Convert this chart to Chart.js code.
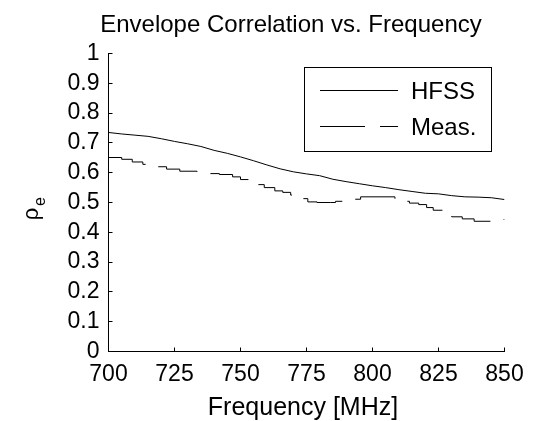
<!DOCTYPE html>
<html><head><meta charset="utf-8">
<script src="https://cdn.jsdelivr.net/npm/chart.js@4.4.1/dist/chart.umd.min.js"></script>
<style>html,body{margin:0;padding:0;background:#fff;}</style>
</head><body>
<canvas id="c" width="545" height="421"></canvas>
<script>
const hfssFreq = [700,705,710,715,720,725,730,735,740,745,750,755,760,765,770,775,780,785,790,795,800,805,810,815,820,825,830,835,840,845,850];
const hfssVals = [0.735,0.730,0.726,0.722,0.714,0.705,0.697,0.688,0.675,0.665,0.653,0.640,0.626,0.613,0.603,0.596,0.590,0.578,0.570,0.563,0.556,0.550,0.543,0.537,0.531,0.529,0.523,0.519,0.518,0.516,0.510];
const measFreq = [700,705,709,713,716,722,727,733.5,737,742,747,750,753,756,759,763,766,769,772.5,775.5,779,784,786,791.5,795.5,808.5,811,814,817.5,820.5,823,827,830,834,838.5,846.5,850];
const measVals = [0.651,0.645,0.636,0.628,0.620,0.612,0.605,0.600,0.597,0.594,0.586,0.577,0.569,0.560,0.550,0.539,0.534,0.525,0.513,0.502,0.500,0.500,0.504,0.511,0.519,0.510,0.504,0.498,0.493,0.483,0.474,0.463,0.452,0.445,0.437,0.443,0.443];
const xTicks = [700,725,750,775,800,825,850];
const yTicks = [0,0.1,0.2,0.3,0.4,0.5,0.6,0.7,0.8,0.9,1];
const yTickLabels = ['0','0.1','0.2','0.3','0.4','0.5','0.6','0.7','0.8','0.9','1'];
const titleText = 'Envelope Correlation vs. Frequency';
const xLabelText = 'Frequency [MHz]';
const yLabelMain = 'ρ';
const yLabelSub = 'e';
const legendLabels = ['HFSS','Meas.'];

const FAM = '"Liberation Sans", Arial, Helvetica, sans-serif';
Chart.defaults.font.family = FAM;
Chart.defaults.color = '#000';

const decor = {
  id: 'decor',
  afterDraw(chart) {
    const ctx = chart.ctx, xs = chart.scales.x, ys = chart.scales.y, a = chart.chartArea;
    ctx.save();
    ctx.strokeStyle = '#000'; ctx.lineWidth = 1; ctx.setLineDash([]);
    ctx.beginPath();
    xs.ticks.forEach(t => { const px = Math.floor(xs.getPixelForValue(t.value)) + 0.5; ctx.moveTo(px, a.bottom); ctx.lineTo(px, a.bottom - 4); });
    ys.ticks.forEach(t => { const py = Math.floor(ys.getPixelForValue(t.value)) + 0.5; ctx.moveTo(a.left, py); ctx.lineTo(a.left + 4, py); });
    ctx.stroke();
    ctx.fillStyle = '#000';
    // title
    ctx.font = '24px ' + FAM; ctx.textAlign = 'center'; ctx.textBaseline = 'alphabetic';
    ctx.fillText(titleText, 291, 32);
    // x label
    ctx.font = '25px ' + FAM;
    ctx.fillText(xLabelText, 303, 415);
    // y label
    ctx.save();
    ctx.translate(38, 214); ctx.rotate(-Math.PI / 2);
    ctx.font = '22px ' + FAM; ctx.textAlign = 'center';
    ctx.fillText(yLabelMain, 0, 0);
    ctx.font = '16px ' + FAM; ctx.textAlign = 'left';
    ctx.fillText(yLabelSub, 8, 7);
    ctx.restore();
    // legend
    ctx.fillStyle = '#fff';
    ctx.fillRect(304.5, 67.5, 187, 84);
    ctx.strokeRect(304.5, 67.5, 187, 84);
    ctx.beginPath(); ctx.moveTo(320, 90.5); ctx.lineTo(398, 90.5); ctx.stroke();
    ctx.setLineDash([45, 15]);
    ctx.beginPath(); ctx.moveTo(320, 126.5); ctx.lineTo(398, 126.5); ctx.stroke();
    ctx.setLineDash([]);
    ctx.fillStyle = '#000';
    ctx.font = '24px ' + FAM; ctx.textAlign = 'left'; ctx.textBaseline = 'middle';
    ctx.fillText(legendLabels[0], 411, 92);
    ctx.fillText(legendLabels[1], 411, 128);
    ctx.restore();
  }
};

new Chart(document.getElementById('c'), {
  type: 'line',
  data: {
    datasets: [
      { label: legendLabels[0], data: hfssFreq.map((f, i) => ({x: f, y: hfssVals[i]})), borderColor: '#000', borderWidth: 1, pointRadius: 0, tension: 0, fill: false },
      { label: legendLabels[1], data: measFreq.map((f, i) => ({x: f, y: measVals[i]})), borderColor: '#000', borderWidth: 1, pointRadius: 0, stepped: true, borderDash: [44, 15], fill: false }
    ]
  },
  options: {
    responsive: false, animation: false, devicePixelRatio: 1,
    layout: { padding: { left: 0, right: 40.5, top: 53.5, bottom: 29.5 } },
    plugins: { legend: { display: false }, title: { display: false }, tooltip: { enabled: false } },
    scales: {
      x: {
        type: 'linear', min: 700, max: 850,
        afterBuildTicks: s => { s.ticks = xTicks.map(v => ({value: v})); },
        afterFit: s => { s.height = 40; s.paddingLeft = 0; s.paddingRight = 0; },
        grid: { display: false, drawTicks: false },
        border: { display: true, color: '#000', width: 1 },
        ticks: { font: { size: 23 }, padding: 9, maxRotation: 0, autoSkip: false, color: '#000', callback: v => String(v) }
      },
      y: {
        type: 'linear', min: 0, max: 1,
        afterBuildTicks: s => { s.ticks = yTicks.map(v => ({value: v})); },
        afterFit: s => { s.width = 108.5; s.paddingTop = 0; s.paddingBottom = 0; },
        grid: { display: false, drawTicks: false },
        border: { display: true, color: '#000', width: 1 },
        ticks: { font: { size: 23 }, padding: 9, autoSkip: false, color: '#000', callback: (v, i) => yTickLabels[i] }
      }
    }
  },
  plugins: [decor]
});
</script>
</body></html>
